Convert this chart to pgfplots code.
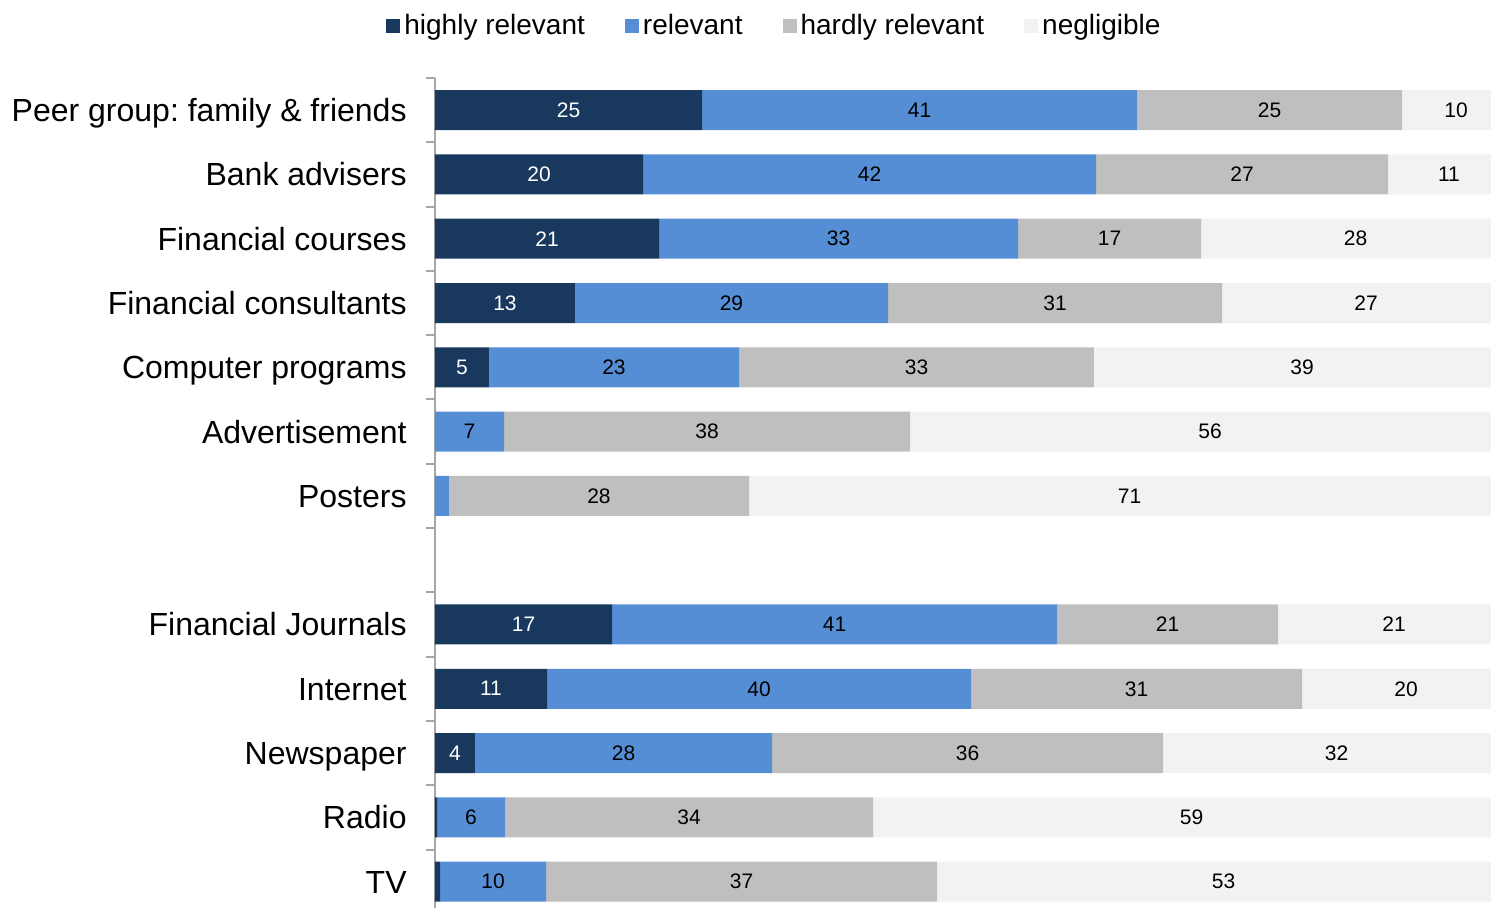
\documentclass[border=0pt]{standalone}
\usepackage{pgfplots}
\pgfplotsset{compat=1.18}
\usepackage{pgfplotstable}
\usepackage{fontspec}
\setmainfont{Liberation Sans}
\frenchspacing
\definecolor{cA}{HTML}{18385E}
\definecolor{cB}{HTML}{558ED5}
\definecolor{cC}{HTML}{BFBFBF}
\definecolor{cD}{HTML}{F2F2F2}
\definecolor{axgray}{HTML}{A6A6A6}

\pgfplotstableread{
y  a     la  b     lb  c     lc  d     ld
0  24.84 25  40.47 41  24.65 25  10.04 10
1  19.35 20  42.14 42  27.16 27  11.35 11
2  20.84 21  33.40 33  17.02 17  28.74 28
3  13.02 13  29.12 29  31.07 31  26.79 27
4  5.02  5   23.26 23  33.02 33  38.70 39
5  0     {}  6.42  7   37.77 38  55.81 56
6  0     {}  1.30  {}  27.91 28  70.79 71
7  0     {}  0     {}  0     {}  0     {}
8  16.47 17  41.40 41  20.56 21  21.57 21
9  10.42 11  39.44 40  30.79 31  19.35 20
10 3.72  4   27.63 28  36.37 36  32.28 32
11 0.19  {}  6.33  6   34.23 34  59.25 59
12 0.47  {}  9.86  10  36.37 37  53.30 53
}\data
% label positions: middle of each segment
\pgfplotstablecreatecol[expr={\thisrow{a}/2}]{ma}\data
\pgfplotstablecreatecol[expr={\thisrow{a}+\thisrow{b}/2}]{mb}\data
\pgfplotstablecreatecol[expr={\thisrow{a}+\thisrow{b}+\thisrow{c}/2}]{mc}\data
\pgfplotstablecreatecol[expr={\thisrow{a}+\thisrow{b}+\thisrow{c}+\thisrow{d}/2}]{md}\data

\pgfplotsset{
  frame/.style={
    scale only axis,
    width=528pt, height=415pt,
    xmin=0, xmax=98.23,
    ymin=-0.5, ymax=12.41,
    y dir=reverse,
  }
}

\begin{document}
\begin{tikzpicture}
\begin{axis}[
  frame,
  xbar stacked,
  bar width=20pt,
  axis x line=none,
  axis y line*=left,
  y axis line style={draw=axgray, line width=1pt},
  ytick={0,1,2,3,4,5,6,8,9,10,11,12},
  yticklabels={Peer group: family \& friends, Bank advisers, Financial courses, Financial consultants, Computer programs, Advertisement, Posters, Financial Journals, Internet, Newspaper, Radio, TV},
  major tick length=0pt,
  minor ytick={-0.5,0.5,...,11.5},
  minor tick length=4.5pt,
  tick align=outside,
  tick style={draw=axgray, line width=1pt},
  yticklabel style={font=\fontsize{16}{19}\selectfont, inner sep=0pt, anchor=base east, xshift=-14pt, yshift=-5.7pt},
  legend columns=4,
  legend cell align=left,
  legend style={at={(axis description cs:-0.0464,1.0627)}, anchor=west, draw=none, fill=none, inner sep=0pt, font=\fontsize{14}{16}\selectfont, /tikz/every even column/.append style={column sep=18pt}},
  legend image code/.code={\fill[#1] (0pt,-3.5pt) rectangle (7pt,3.5pt);},
]
\addplot[fill=cA, draw=none] table[x=a, y=y] {\data};
\addlegendentry{highly relevant}
\addplot[fill=cB, draw=none] table[x=b, y=y] {\data};
\addlegendentry{relevant}
\addplot[fill=cC, draw=none] table[x=c, y=y] {\data};
\addlegendentry{hardly relevant}
\addplot[fill=cD, draw=none] table[x=d, y=y] {\data};
\addlegendentry{negligible}
\end{axis}
\begin{axis}[
  frame,
  hide axis,
  point meta=explicit symbolic,
  nodes near coords,
  every node near coord/.append style={font=\fontsize{10.5}{12}\selectfont, anchor=center, text=black},
]
\addplot[draw=none, mark=none, every node near coord/.append style={text=white}] table[x=ma, y=y, meta=la] {\data};
\addplot[draw=none, mark=none] table[x=mb, y=y, meta=lb] {\data};
\addplot[draw=none, mark=none] table[x=mc, y=y, meta=lc] {\data};
\addplot[draw=none, mark=none] table[x=md, y=y, meta=ld] {\data};
\end{axis}
\pgfresetboundingbox
\useasboundingbox ([xshift=-217.5pt]current axis.south west) rectangle ([yshift=39pt]current axis.north east);
\end{tikzpicture}
\end{document}
